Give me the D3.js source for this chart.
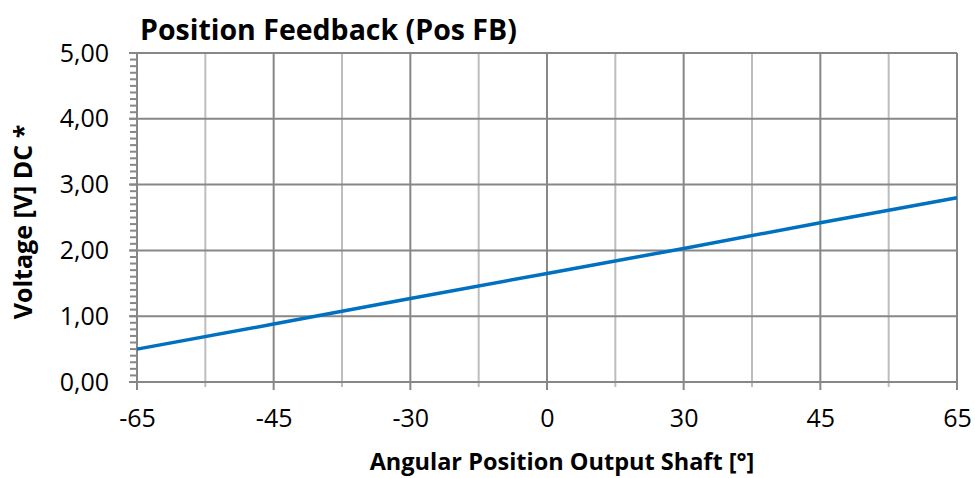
<!DOCTYPE html>
<html>
<head>
<meta charset="utf-8">
<script src="https://cdn.jsdelivr.net/npm/d3@7"></script>
<style>
  body { margin: 0; background: #fff; }
  svg { font-family: "Open Sans", sans-serif; }
  .tick text { font-size: 25px; fill: #000; font-family: "Open Sans", sans-serif; }
</style>
</head>
<body>
<svg width="975" height="478"></svg>
<script>
// chart data
const angles = ['-65', '-45', '-30', '0', '30', '45', '65'];
const voltage = [0.50, 0.88, 1.27, 1.65, 2.03, 2.42, 2.80];
const yTicks = [0, 1, 2, 3, 4, 5];

const plotLeft = 137, plotRight = 957, plotTop = 53, plotBottom = 382;

const svg = d3.select('svg');
const locale = d3.formatLocale({decimal: ',', thousands: '.', grouping: [3], currency: ['', '']});
const fmt = locale.format('.2f');

const xScale = d3.scalePoint()
                 .domain(angles)
                 .range([plotLeft, plotRight]);

const yScale = d3.scaleLinear()
                 .domain([0, 5])
                 .range([plotBottom, plotTop]);

// midpoints between labelled categories
const mids = d3.pairs(angles).map(([a, b]) => (xScale(a) + xScale(b)) / 2);

const grid = svg.append('g');

grid.selectAll('.vminor')
    .data(mids)
    .enter()
    .append('line')
    .attr('x1', d => d).attr('x2', d => d)
    .attr('y1', plotTop).attr('y2', plotBottom + 5)
    .attr('stroke', '#bdbdbd')
    .attr('stroke-width', 2);

grid.selectAll('.vmajor')
    .data(angles)
    .enter()
    .append('line')
    .attr('x1', d => xScale(d)).attr('x2', d => xScale(d))
    .attr('y1', plotTop).attr('y2', plotBottom + 8)
    .attr('stroke', '#878787')
    .attr('stroke-width', 2);

// y minor ticks
grid.selectAll('.yminor')
    .data(d3.range(0, 50).map(i => i / 10))
    .enter()
    .append('line')
    .attr('x1', plotLeft - 7).attr('x2', plotLeft)
    .attr('y1', d => yScale(d)).attr('y2', d => yScale(d))
    .attr('stroke', '#878787')
    .attr('stroke-width', 2);

grid.selectAll('.hmajor')
    .data(yTicks)
    .enter()
    .append('line')
    .attr('x1', plotLeft - 8).attr('x2', plotRight)
    .attr('y1', d => yScale(d)).attr('y2', d => yScale(d))
    .attr('stroke', '#878787')
    .attr('stroke-width', 2);

// y axis labels
svg.append('g')
   .attr('transform', `translate(${plotLeft - 8}, 0)`)
   .call(d3.axisLeft(yScale).tickValues(yTicks).tickFormat(fmt).tickSize(0).tickPadding(20))
   .call(g => g.select('.domain').remove());

// x axis labels
svg.append('g')
   .attr('transform', `translate(0, ${plotBottom})`)
   .call(d3.axisBottom(xScale).tickSize(0).tickPadding(27))
   .call(g => g.select('.domain').remove());

// the line
const line = d3.line()
               .x((d, i) => xScale(angles[i]))
               .y(d => yScale(d));

svg.append('path')
   .datum(voltage)
   .attr('fill', 'none')
   .attr('stroke', '#0070c0')
   .attr('stroke-width', 3.5)
   .attr('d', line);

svg.append('text')
   .attr('x', 140)
   .attr('y', 40)
   .attr('font-size', 28.5)
   .attr('font-weight', 'bold')
   .text('Position Feedback (Pos FB)');

svg.append('text')
   .attr('x', 562)
   .attr('y', 470)
   .attr('text-anchor', 'middle')
   .attr('font-size', 23.5)
   .attr('font-weight', 'bold')
   .text('Angular Position Output Shaft [°]');

svg.append('text')
   .attr('transform', 'rotate(-90)')
   .attr('x', -222)
   .attr('y', 32)
   .attr('text-anchor', 'middle')
   .attr('font-size', 25)
   .attr('font-weight', 'bold')
   .text('Voltage [V] DC *');
</script>
</body>
</html>
